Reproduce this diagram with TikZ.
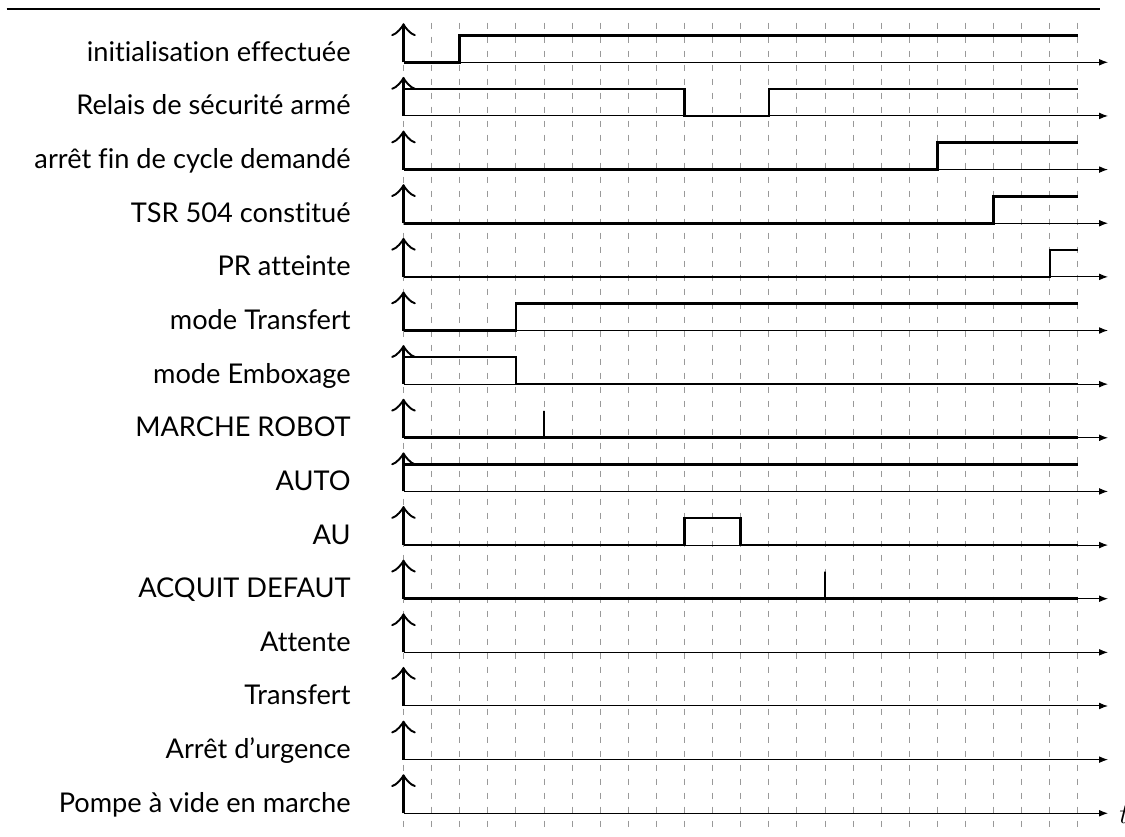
\documentclass[tikz,border=0pt]{standalone}
\usepackage{fontspec}
\setmainfont{Lato}[Ligatures=NoCommon]
\usetikzlibrary{arrows.meta}
\tikzset{
  toprule/.style={line width=1.2pt},
  gridline/.style={black!40, line width=0.5pt, dash pattern=on 3.3pt off 3.7pt},
  timeaxis/.style={line width=0.5pt, -{Latex[length=4.5pt,width=3.4pt]}},
  levelaxis/.style={line width=1.2pt, -{Classical TikZ Rightarrow[scale=1.9]}},
  sig/.style={line width=1.3pt, line join=miter},
  lab/.style={anchor=base east, inner sep=0pt, font=\fontsize{13.6}{16}\selectfont},
}
\newcommand\signalrow[2]{%
  \begin{scope}[shift={({403.5},{62.3+(#1-1)*53.64})},x=14.05pt,y=0.5pt]
    \draw[sig] #2;
  \end{scope}}
\begin{document}
\begin{tikzpicture}[x=0.5pt,y=-0.5pt]
\useasboundingbox (0,0) rectangle (1125,836);
\coordinate (rl) at (6.7,8.7);
\coordinate (rr) at (1100,8.7);
\draw[toprule] (rl) -- (rr);
\foreach \k in {0,...,24}{
  \coordinate (gt\k) at ({403.5+\k*28.1},22.7);
  \coordinate (gb\k) at ({403.5+\k*28.1},827.4);
  \draw[gridline] (gt\k) -- (gb\k);
}
\foreach \lab [count=\i] in {initialisation effectuée,Relais de sécurité armé,arrêt fin de cycle demandé,TSR 504 constitué,PR atteinte,mode Transfert,mode Emboxage,MARCHE ROBOT,AUTO,AU,ACQUIT DEFAUT,Attente,Transfert,Arrêt d’urgence,Pompe à vide en marche}{
  \pgfmathsetmacro\yb{62.3+(\i-1)*53.64}
  \coordinate (o\i) at (403.5,\yb);
  \coordinate (e\i) at (1108,\yb);
  \coordinate (u\i) at (403.5,\yb-39);
  \node[lab] (l\i) at (351,\yb-1) {\lab};
  \draw[timeaxis] (o\i) -- (e\i);
  \draw[levelaxis] (o\i) -- (u\i);
}
\node[anchor=base west, inner sep=0pt, font=\fontsize{13.6}{16}\selectfont] (t) at (1119,823) {$t$};
\signalrow{1}{(0,0) -- (2,0) -- (2,27) -- (24,27)}
\signalrow{2}{(0,27) -- (10,27) -- (10,0) -- (13,0) -- (13,27) -- (24,27)}
\signalrow{3}{(0,0) -- (19,0) -- (19,27) -- (24,27)}
\signalrow{4}{(0,0) -- (21,0) -- (21,27) -- (24,27)}
\signalrow{5}{(0,0) -- (23,0) -- (23,27) -- (24,27)}
\signalrow{6}{(0,0) -- (4,0) -- (4,27) -- (24,27)}
\signalrow{7}{(0,27) -- (4,27) -- (4,0) -- (24,0)}
\signalrow{8}{(0,0) -- (5,0) -- (5,27) -- (5,0) -- (24,0)}
\signalrow{9}{(0,27) -- (24,27)}
\signalrow{10}{(0,0) -- (10,0) -- (10,27) -- (12,27) -- (12,0) -- (24,0)}
\signalrow{11}{(0,0) -- (15,0) -- (15,27) -- (15,0) -- (24,0)}
\end{tikzpicture}
\end{document}
